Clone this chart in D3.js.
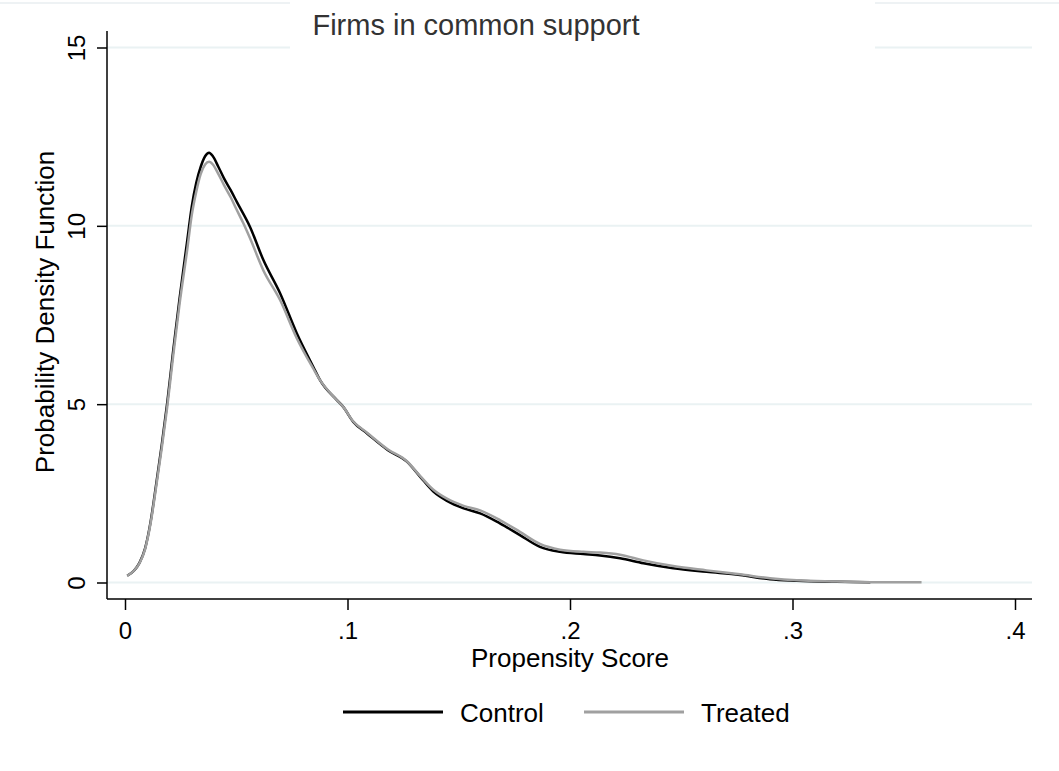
<!DOCTYPE html>
<html><head><meta charset="utf-8">
<script src="https://cdn.jsdelivr.net/npm/d3@7"></script>
<style>body{margin:0;background:#fff;} text{font-family:"Liberation Sans",Arial,sans-serif;}</style>
</head><body><svg id="c" width="1059" height="771"></svg>
<script>
const controlX = [0.001,0.004,0.0065,0.009,0.0115,0.014,0.0165,0.019,0.0217,0.0245,0.028,0.030,0.032,0.034,0.036,0.0378,0.0395,0.042,0.0445,0.0475,0.0502,0.0562,0.0622,0.0697,0.0772,0.0846,0.0876,0.0951,0.098,0.1025,0.1088,0.1182,0.1267,0.1326,0.1386,0.1447,0.1522,0.1596,0.1685,0.1775,0.1865,0.1955,0.206,0.2135,0.2225,0.233,0.2464,0.2614,0.2764,0.2899,0.3019,0.3198,0.335];
const controlY = [0.19,0.33,0.55,0.95,1.7,2.75,3.85,5.05,6.52,7.95,9.6,10.54,11.2,11.65,11.95,12.05,11.95,11.65,11.33,11.0,10.68,9.97,9.04,8.11,6.99,6.05,5.68,5.12,4.93,4.51,4.18,3.71,3.39,2.97,2.55,2.29,2.08,1.94,1.66,1.33,1.00,0.86,0.80,0.76,0.68,0.54,0.40,0.30,0.21,0.09,0.05,0.02,0.005];
const treatedX = [0.001,0.004,0.0065,0.009,0.0115,0.014,0.0165,0.019,0.0217,0.0245,0.028,0.030,0.032,0.034,0.036,0.0378,0.0395,0.042,0.0445,0.0475,0.0502,0.0532,0.0562,0.0622,0.0697,0.0772,0.0846,0.0876,0.0951,0.098,0.1025,0.1088,0.1182,0.1267,0.1326,0.1386,0.1447,0.1522,0.1596,0.1685,0.1775,0.1865,0.1955,0.206,0.2135,0.2225,0.233,0.2464,0.2614,0.2764,0.2899,0.3019,0.3198,0.335,0.358];
const treatedY = [0.19,0.33,0.54,0.93,1.66,2.68,3.76,4.93,6.38,7.8,9.35,10.3,10.95,11.45,11.72,11.8,11.72,11.45,11.14,10.8,10.45,10.07,9.65,8.75,7.92,6.85,6.0,5.68,5.12,4.93,4.52,4.2,3.73,3.4,2.99,2.6,2.35,2.15,2.02,1.75,1.42,1.08,0.92,0.86,0.84,0.78,0.62,0.46,0.34,0.23,0.12,0.06,0.03,0.01,0.005];
const xTicks = [0,0.1,0.2,0.3,0.4];
const xTickLabels = ["0",".1",".2",".3",".4"];
const yTicks = [0,5,10,15];
const yTickLabels = ["0","5","10","15"];
const seriesNames = ["Control","Treated"];
const seriesColors = ["#000000","#a0a0a0"];
const titleText = "Firms in common support";
const xTitle = "Propensity Score";
const yTitle = "Probability Density Function";

const svg = d3.select("#c");
const x = d3.scaleLinear().domain([0,0.4]).range([125,1015]);
const y = d3.scaleLinear().domain([0,15]).range([582.5,47.5]);
const plotL = 107, plotR = 1032, plotB = 599, plotT = 31;

svg.append("line").attr("x1",0).attr("x2",1059).attr("y1",3).attr("y2",3)
  .attr("stroke","#eef2f4").attr("stroke-width",2);

svg.append("g").selectAll("line").data(yTicks).join("line")
  .attr("x1",plotL).attr("x2",plotR).attr("y1",d=>y(d)).attr("y2",d=>y(d))
  .attr("stroke","#eaf2f3").attr("stroke-width",2);

svg.append("rect").attr("x",290).attr("y",0).attr("width",585).attr("height",56).attr("fill","#fff");
svg.append("text").attr("x",476).attr("y",35).attr("text-anchor","middle")
  .attr("font-size",29).attr("fill","#333").text(titleText);

const xAxis = d3.axisBottom(x).tickValues(xTicks).tickFormat((d,i)=>xTickLabels[i]).tickSize(11).tickSizeOuter(0);
const gx = svg.append("g").attr("transform",`translate(0,${plotB})`).call(xAxis);
gx.select(".domain").remove();
gx.append("line").attr("x1",plotL).attr("x2",plotR).attr("stroke","#000").attr("stroke-width",1.5);
gx.selectAll(".tick line").attr("stroke","#000").attr("stroke-width",1.5);
gx.selectAll(".tick text").attr("font-size",24).attr("fill","#000").attr("dy",null).attr("y",40)
  .style("font-family","'Liberation Sans',Arial,sans-serif");

const yAxis = d3.axisLeft(y).tickValues(yTicks).tickFormat((d,i)=>yTickLabels[i]).tickSize(10).tickSizeOuter(0);
const gy = svg.append("g").attr("transform",`translate(${plotL},0)`).call(yAxis);
gy.select(".domain").remove();
gy.append("line").attr("y1",plotT).attr("y2",plotB).attr("stroke","#000").attr("stroke-width",1.5);
gy.selectAll(".tick line").attr("stroke","#000").attr("stroke-width",1.5);
gy.selectAll(".tick text").attr("font-size",24).attr("fill","#000")
  .attr("x",null).attr("dy",null).attr("text-anchor","middle")
  .attr("transform","translate(-22,0) rotate(-90)")
  .style("font-family","'Liberation Sans',Arial,sans-serif");

svg.append("text").attr("x",570).attr("y",667).attr("text-anchor","middle").attr("font-size",26).attr("fill","#000").text(xTitle);
svg.append("text").attr("transform","translate(54,312) rotate(-90)").attr("text-anchor","middle").attr("font-size",26).attr("fill","#000").text(yTitle);

const line = d3.line().x(d=>x(d[0])).y(d=>y(d[1])).curve(d3.curveMonotoneX);
const series = [d3.zip(controlX,controlY), d3.zip(treatedX,treatedY)];
series.forEach((s,i)=>{
  svg.append("path").datum(s).attr("d",line).attr("fill","none")
    .attr("stroke",seriesColors[i]).attr("stroke-width",2.5).attr("stroke-linejoin","round");
});

const legX = [343,584];
seriesNames.forEach((n,i)=>{
  svg.append("line").attr("x1",legX[i]).attr("x2",legX[i]+100).attr("y1",712).attr("y2",712)
    .attr("stroke",seriesColors[i]).attr("stroke-width",3);
  svg.append("text").attr("x",legX[i]+117).attr("y",722).attr("font-size",26).attr("fill","#000").text(n);
});
</script></body></html>
